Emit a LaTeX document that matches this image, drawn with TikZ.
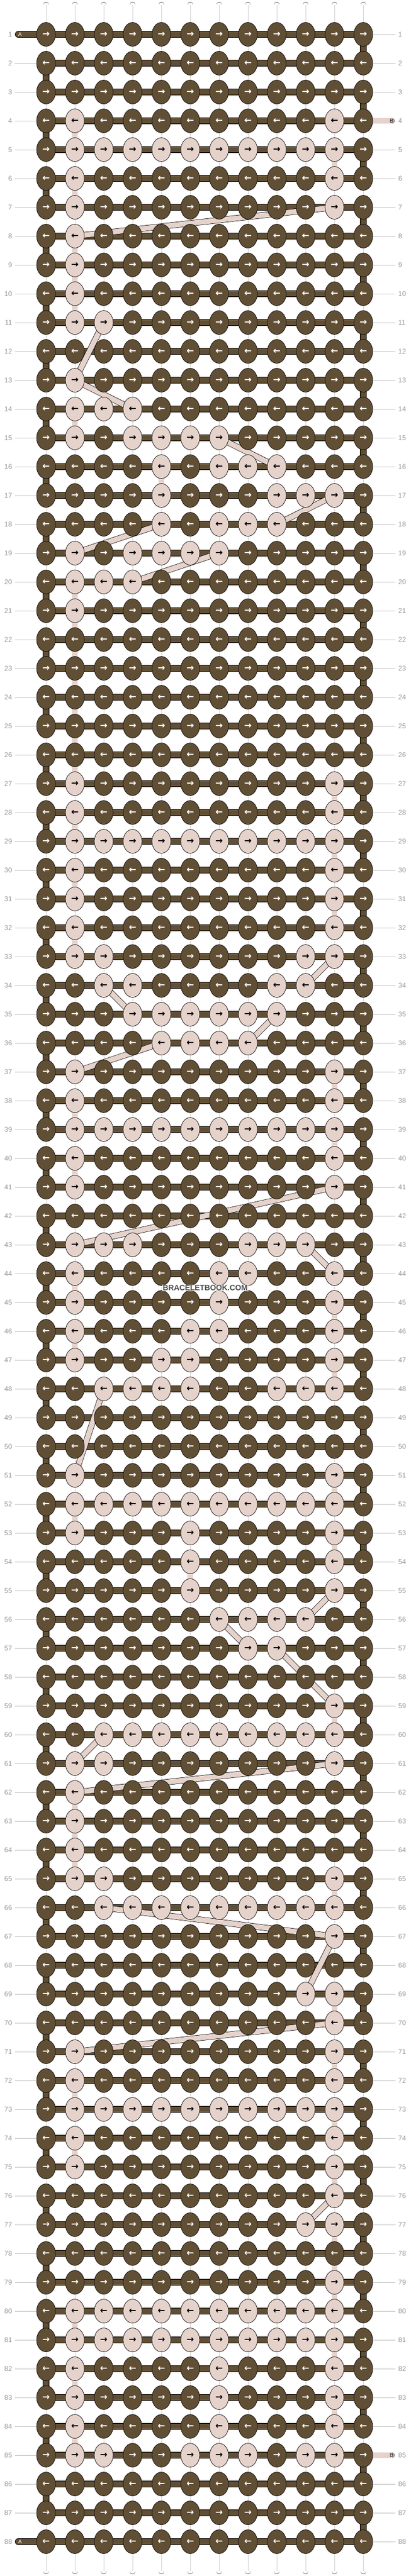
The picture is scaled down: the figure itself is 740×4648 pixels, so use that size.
\documentclass[tikz,border=0pt]{standalone}
\usepackage{fontspec}
\setmainfont{Liberation Sans}
\newfontfamily\arrowfont{DejaVu Sans}
\usetikzlibrary{shapes.geometric,backgrounds}
\definecolor{brownc}{RGB}{96,79,53}
\definecolor{pinkc}{RGB}{229,210,203}
\definecolor{lblgray}{RGB}{150,150,150}
\definecolor{linegray}{RGB}{192,192,192}
\newcommand{\knotarrow}[1]{\ifodd#1\relax →\else ←\fi}

\begin{document}
\begin{tikzpicture}[x=1pt,y=-1pt]
	\tikzstyle{knot}=[ellipse,draw=black,line width=0.7pt,minimum width=34pt,minimum height=43pt,inner sep=0pt,font=\fontsize{16}{16}\selectfont\arrowfont\bfseries]
	\tikzstyle{knotb}=[fill=brownc,text=white]
	\tikzstyle{knotp}=[fill=pinkc,text=black]
	\tikzstyle{warp}=[draw=black,line width=0.7pt,double=white,double distance=9.4pt,line cap=round]
	\tikzstyle{warpmid}=[draw=black!18,line width=0.8pt,line cap=round]
	\tikzstyle{abar}=[draw=black,line width=0.7pt,double=brownc,double distance=10.6pt]
	\tikzstyle{bline}=[draw=black,line width=0.7pt,double=pinkc,double distance=9.4pt]
	\tikzstyle{rowlbl}=[font=\fontsize{12.5}{12.5}\selectfont,text=lblgray,inner xsep=5pt,inner ysep=0pt]
	\tikzstyle{rowline}=[draw=linegray,line width=0.8pt]
	\tikzstyle{stubtxt}=[font=\fontsize{9.5}{9.5}\selectfont,inner sep=0pt]
	\useasboundingbox (0,0) rectangle (740,4648);
	\foreach \r/\pat in {
		1/{b,b,b,b,b,b,b,b,b,b,b,b}, 2/{b,b,b,b,b,b,b,b,b,b,b,b}, 3/{b,b,b,b,b,b,b,b,b,b,b,b},
		4/{b,p,b,b,b,b,b,b,b,b,p,b}, 5/{b,p,p,p,p,p,p,p,p,p,p,b}, 6/{b,p,b,b,b,b,b,b,b,b,p,b},
		7/{b,p,b,b,b,b,b,b,b,b,p,b}, 8/{b,p,b,b,b,b,b,b,b,b,b,b}, 9/{b,p,b,b,b,b,b,b,b,b,b,b},
		10/{b,p,b,b,b,b,b,b,b,b,b,b}, 11/{b,p,p,b,b,b,b,b,b,b,b,b}, 12/{b,b,b,b,b,b,b,b,b,b,b,b},
		13/{b,p,b,b,b,b,b,b,b,b,b,b}, 14/{b,p,p,p,b,b,b,b,b,b,b,b}, 15/{b,p,b,p,p,p,p,b,b,b,b,b},
		16/{b,b,b,b,p,b,p,p,p,b,b,b}, 17/{b,b,b,b,p,b,b,b,p,p,p,b}, 18/{b,b,b,b,p,b,p,p,p,b,b,b},
		19/{b,p,b,p,p,p,p,b,b,b,b,b}, 20/{b,p,p,p,b,b,b,b,b,b,b,b}, 21/{b,p,b,b,b,b,b,b,b,b,b,b},
		22/{b,b,b,b,b,b,b,b,b,b,b,b}, 23/{b,b,b,b,b,b,b,b,b,b,b,b}, 24/{b,b,b,b,b,b,b,b,b,b,b,b},
		25/{b,b,b,b,b,b,b,b,b,b,b,b}, 26/{b,b,b,b,b,b,b,b,b,b,b,b}, 27/{b,p,b,b,b,b,b,b,b,b,p,b},
		28/{b,p,b,b,b,b,b,b,b,b,p,b}, 29/{b,p,p,p,p,p,p,p,p,p,p,b}, 30/{b,p,b,b,b,b,b,b,b,b,p,b},
		31/{b,p,b,b,b,b,b,b,b,b,p,b}, 32/{b,p,b,b,b,b,b,b,b,b,p,b}, 33/{b,p,p,b,b,b,b,b,b,p,p,b},
		34/{b,b,p,p,b,b,b,b,p,p,b,b}, 35/{b,b,b,p,p,p,p,p,p,b,b,b}, 36/{b,b,b,b,p,p,p,p,b,b,b,b},
		37/{b,p,b,b,b,b,b,b,b,b,p,b}, 38/{b,p,b,b,b,b,b,b,b,b,p,b}, 39/{b,p,p,p,p,p,p,p,p,p,p,b},
		40/{b,p,b,b,b,b,b,b,b,b,p,b}, 41/{b,p,b,b,b,b,b,b,b,b,p,b}, 42/{b,b,b,b,b,b,b,b,b,b,b,b},
		43/{b,p,p,p,b,b,b,p,p,p,b,b}, 44/{b,p,b,b,b,b,p,p,b,b,p,b}, 45/{b,p,b,b,b,b,p,b,b,b,p,b},
		46/{b,p,b,b,b,p,p,b,b,b,p,b}, 47/{b,p,b,b,p,p,b,b,b,b,p,b}, 48/{b,b,p,p,p,p,b,b,p,p,p,b},
		49/{b,b,b,b,b,b,b,b,b,b,b,b}, 50/{b,b,b,b,b,b,b,b,b,b,b,b}, 51/{b,p,b,b,b,b,b,b,b,b,p,b},
		52/{b,p,p,p,p,p,p,p,p,p,p,b}, 53/{b,p,b,b,b,p,b,b,b,b,p,b}, 54/{b,b,b,b,b,p,b,b,b,b,p,b},
		55/{b,b,b,b,b,p,b,b,b,b,p,b}, 56/{b,b,b,b,b,b,p,p,p,p,b,b}, 57/{b,b,b,b,b,b,b,p,p,b,b,b},
		58/{b,b,b,b,b,b,b,b,b,b,b,b}, 59/{b,b,b,b,b,b,b,b,b,b,p,b}, 60/{b,b,p,p,p,p,p,p,p,p,p,b},
		61/{b,p,p,b,b,b,b,b,b,b,p,b}, 62/{b,p,b,b,b,b,b,b,b,b,b,b}, 63/{b,p,b,b,b,b,b,b,b,b,b,b},
		64/{b,p,b,b,b,b,b,b,b,b,b,b}, 65/{b,p,p,b,b,b,b,b,b,b,p,b}, 66/{b,b,p,p,p,p,p,p,p,p,p,b},
		67/{b,b,b,b,b,b,b,b,b,b,p,b}, 68/{b,b,b,b,b,b,b,b,b,b,b,b}, 69/{b,b,b,b,b,b,b,b,b,p,p,b},
		70/{b,b,b,b,b,b,b,b,b,b,p,b}, 71/{b,p,b,b,b,b,b,b,b,b,p,b}, 72/{b,p,b,b,b,b,b,b,b,b,p,b},
		73/{b,p,p,p,p,p,p,p,p,p,p,b}, 74/{b,p,b,b,b,b,b,b,b,b,p,b}, 75/{b,p,b,b,b,b,b,b,b,b,p,b},
		76/{b,b,b,b,b,b,b,b,b,b,p,b}, 77/{b,b,b,b,b,b,b,b,b,p,p,b}, 78/{b,b,b,b,b,b,b,b,b,b,b,b},
		79/{b,b,b,b,b,b,b,b,b,b,p,b}, 80/{b,p,p,p,p,p,p,p,p,p,p,b}, 81/{b,p,p,p,p,p,p,p,p,p,p,b},
		82/{b,p,b,b,b,b,p,b,b,b,p,b}, 83/{b,p,b,b,b,b,p,b,b,b,p,b}, 84/{b,p,b,b,b,b,p,b,b,b,p,b},
		85/{b,p,p,b,b,p,p,p,b,p,p,b}, 86/{b,b,b,b,b,b,b,b,b,b,b,b}, 87/{b,b,b,b,b,b,b,b,b,b,b,b},
		88/{b,b,b,b,b,b,b,b,b,b,b,b}} {
		\foreach \k [count=\c] in \pat
			\node [knot,knot\k] (k-\r-\c) at ({31+52*\c},{10+52*\r}) {\knotarrow{\r}};
		\node [rowlbl,anchor=east] (ll-\r) at (27,{10+52*\r}) {\r};
		\node [rowlbl,anchor=west] (rl-\r) at (713,{10+52*\r}) {\r};
	}
	\foreach \c in {1,...,12} {
		\coordinate (top-\c) at ({31+52*\c},9);
		\coordinate (bot-\c) at ({31+52*\c},4639);
	}
	\coordinate (a-in) at (33,62);
	\coordinate (a-out) at (33,4586);
	\coordinate (b-in) at (706,218);
	\coordinate (b-out) at (706,4430);
	\begin{scope}[on background layer]
		\foreach \c in {1,...,12} {
			\draw [warp] (top-\c) -- (bot-\c);
			\draw [warpmid] (top-\c) -- (bot-\c);
		}
		\foreach \r in {1,...,88}
			\draw [abar] (k-\r-1.center) -- (k-\r-12.center);
		\foreach \r [evaluate=\r as \n using int(\r+1)] in {1,3,...,87}
			\draw [abar] (k-\r-12.center) -- (k-\n-12.center);
		\foreach \r [evaluate=\r as \n using int(\r+1)] in {2,4,...,86}
			\draw [abar] (k-\r-1.center) -- (k-\n-1.center);
		\draw [abar,line cap=round] (k-1-1.center) -- (a-in);
		\draw [abar,line cap=round] (k-88-1.center) -- (a-out);
		\draw [bline,line cap=round] (k-4-12.center) -- (b-in);
		\draw [bline,line cap=round] (k-85-12.center) -- (b-out);
		\foreach \ra/\ca/\rb/\cb in {4/2/5/2, 5/11/6/11, 6/2/7/2, 7/11/8/2, 8/2/9/2, 9/2/10/2, 10/2/11/2, 11/3/13/2,
			13/2/14/4, 14/2/15/2, 15/7/16/9, 16/5/17/5, 17/11/18/9, 18/5/19/2, 19/7/20/4, 20/2/21/2,
			21/2/27/2, 27/11/28/11, 28/2/29/2, 29/11/30/11, 30/2/31/2, 31/11/32/11, 32/2/33/2, 33/11/34/10,
			34/3/35/4, 35/9/36/8, 36/5/37/2, 37/11/38/11, 38/2/39/2, 39/11/40/11, 40/2/41/2, 41/11/43/2,
			43/10/44/11, 44/2/45/2, 45/11/46/11, 46/2/47/2, 47/11/48/11, 48/3/51/2, 51/11/52/11, 52/2/53/2,
			53/11/54/11, 54/6/55/6, 55/11/56/10, 56/7/57/8, 57/9/59/11, 59/11/60/11, 60/3/61/2, 61/11/62/2,
			62/2/63/2, 63/2/64/2, 64/2/65/2, 65/11/66/11, 66/3/67/11, 67/11/69/10, 69/11/70/11, 70/11/71/2,
			71/11/72/11, 72/2/73/2, 73/11/74/11, 74/2/75/2, 75/11/76/11, 76/11/77/10, 77/11/79/11, 79/11/80/11,
			80/2/81/2, 81/11/82/11, 82/2/83/2, 83/11/84/11, 84/2/85/2}
			\draw [bline] (k-\ra-\ca.center) -- (k-\rb-\cb.center);
	\end{scope}
	\foreach \r in {2,...,87}
		\draw [rowline] (ll-\r) -- (k-\r-1);
	\foreach \r in {1,2,3,5,6,...,84,86,87,88}
		\draw [rowline] (k-\r-12) -- (rl-\r);
	\node [stubtxt,text=white] (a-top) at (36,62) {A};
	\node [stubtxt,text=white] (a-bot) at (36,4586) {A};
	\node [stubtxt,text=black] (b-top) at (706,218) {B};
	\node [stubtxt,text=black] (b-bot) at (706,4430) {B};
	\node [font=\fontsize{13.8}{13.8}\selectfont\bfseries,text=black!72,fill=white,fill opacity=0.6,text opacity=1,inner sep=1.5pt] (mark) at (370,2324) {BRACELETBOOK.COM};
\end{tikzpicture}
\end{document}
